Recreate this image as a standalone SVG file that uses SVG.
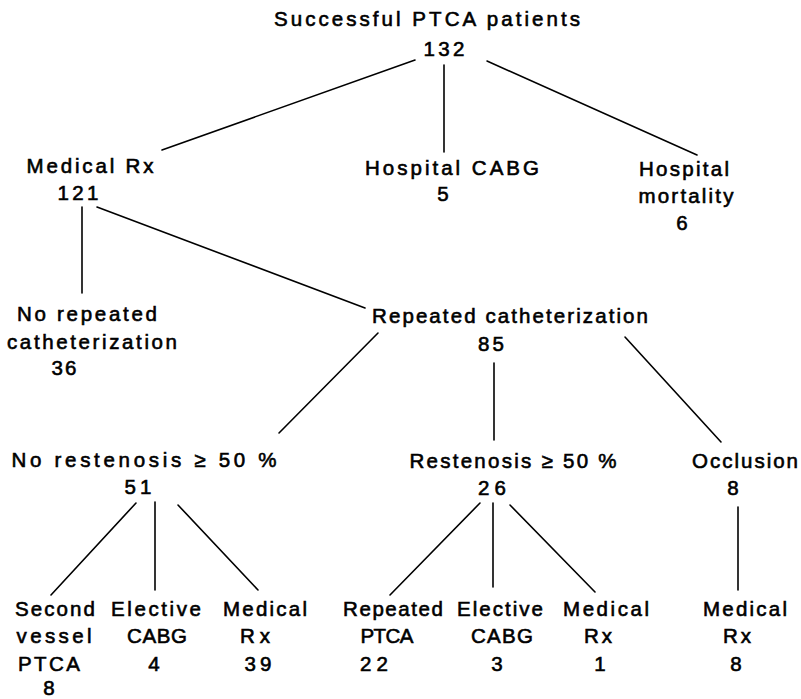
<svg xmlns="http://www.w3.org/2000/svg" width="801" height="699" viewBox="0 0 801 699">
<style>
text{font-family:"Liberation Sans",Arial,sans-serif;font-size:20.5px;fill:#000;stroke:#000;stroke-width:0.6;text-anchor:middle}
.c line{stroke:#000;stroke-width:1.6;stroke-linecap:round}
</style>
<rect width="801" height="699" fill="#fff"/>
<g class="c" id="connectors">
<line x1="415" y1="60" x2="162" y2="150"/>
<line x1="444" y1="65" x2="444" y2="152"/>
<line x1="487" y1="61" x2="697" y2="155"/>
<line x1="82" y1="207" x2="82" y2="293"/>
<line x1="97" y1="207" x2="365" y2="308"/>
<line x1="378" y1="333" x2="279" y2="433"/>
<line x1="494" y1="363" x2="494" y2="440"/>
<line x1="625" y1="337" x2="721" y2="442"/>
<line x1="136" y1="503" x2="51" y2="595"/>
<line x1="155" y1="502" x2="155" y2="590"/>
<line x1="178" y1="505" x2="258" y2="590"/>
<line x1="480" y1="503" x2="390" y2="595"/>
<line x1="493" y1="503" x2="493" y2="587"/>
<line x1="510" y1="505" x2="595" y2="592"/>
<line x1="738" y1="507" x2="738" y2="590"/>
</g>
<g id="root">
<text x="427" y="26" textLength="306">Successful PTCA patients</text>
<text x="444" y="56" textLength="41">132</text>
</g>
<g id="medical">
<text x="90" y="173" textLength="127">Medical Rx</text>
<text x="78" y="200" textLength="41">121</text>
</g>
<g id="hospital-cabg">
<text x="452" y="175" textLength="174">Hospital CABG</text>
<text x="443" y="201">5</text>
</g>
<g id="hospital-mortality">
<text x="684" y="176" textLength="90">Hospital</text>
<text x="686" y="203" textLength="95">mortality</text>
<text x="682" y="230">6</text>
</g>
<g id="no-repeat">
<text x="87" y="321" textLength="140">No repeated</text>
<text x="92" y="349" textLength="170">catheterization</text>
<text x="64" y="375" textLength="25">36</text>
</g>
<g id="repeat">
<text x="510" y="323" textLength="276">Repeated catheterization</text>
<text x="491" y="351" textLength="26">85</text>
</g>
<g id="no-restenosis">
<text x="144" y="467" textLength="265">No restenosis ≥ 50 %</text>
<text x="138" y="494" textLength="27">51</text>
</g>
<g id="restenosis">
<text x="513" y="468" textLength="207">Restenosis ≥ 50 %</text>
<text x="492" y="495" textLength="28">26</text>
</g>
<g id="occlusion">
<text x="745" y="468" textLength="106">Occlusion</text>
<text x="733" y="495">8</text>
</g>
<g id="second-vessel">
<text x="55" y="616" textLength="80">Second</text>
<text x="54" y="643" textLength="75">vessel</text>
<text x="49" y="671" textLength="62">PTCA</text>
<text x="49" y="695">8</text>
</g>
<g id="elective-1">
<text x="156" y="616" textLength="90">Elective</text>
<text x="157" y="643" textLength="60">CABG</text>
<text x="154" y="671">4</text>
</g>
<g id="medical-1">
<text x="265" y="616" textLength="84">Medical</text>
<text x="255" y="643" textLength="30">Rx</text>
<text x="258" y="671" textLength="27">39</text>
</g>
<g id="repeat-ptca">
<text x="393" y="616" textLength="100">Repeated</text>
<text x="387" y="643" textLength="53">PTCA</text>
<text x="374" y="671" textLength="28">22</text>
</g>
<g id="elective-2">
<text x="500" y="616" textLength="86">Elective</text>
<text x="502" y="643" textLength="62">CABG</text>
<text x="497" y="671">3</text>
</g>
<g id="medical-2">
<text x="606" y="616" textLength="86">Medical</text>
<text x="598" y="643" textLength="28">Rx</text>
<text x="600" y="671">1</text>
</g>
<g id="medical-3">
<text x="745" y="616" textLength="84">Medical</text>
<text x="737" y="643" textLength="28">Rx</text>
<text x="736" y="671">8</text>
</g>
</svg>
